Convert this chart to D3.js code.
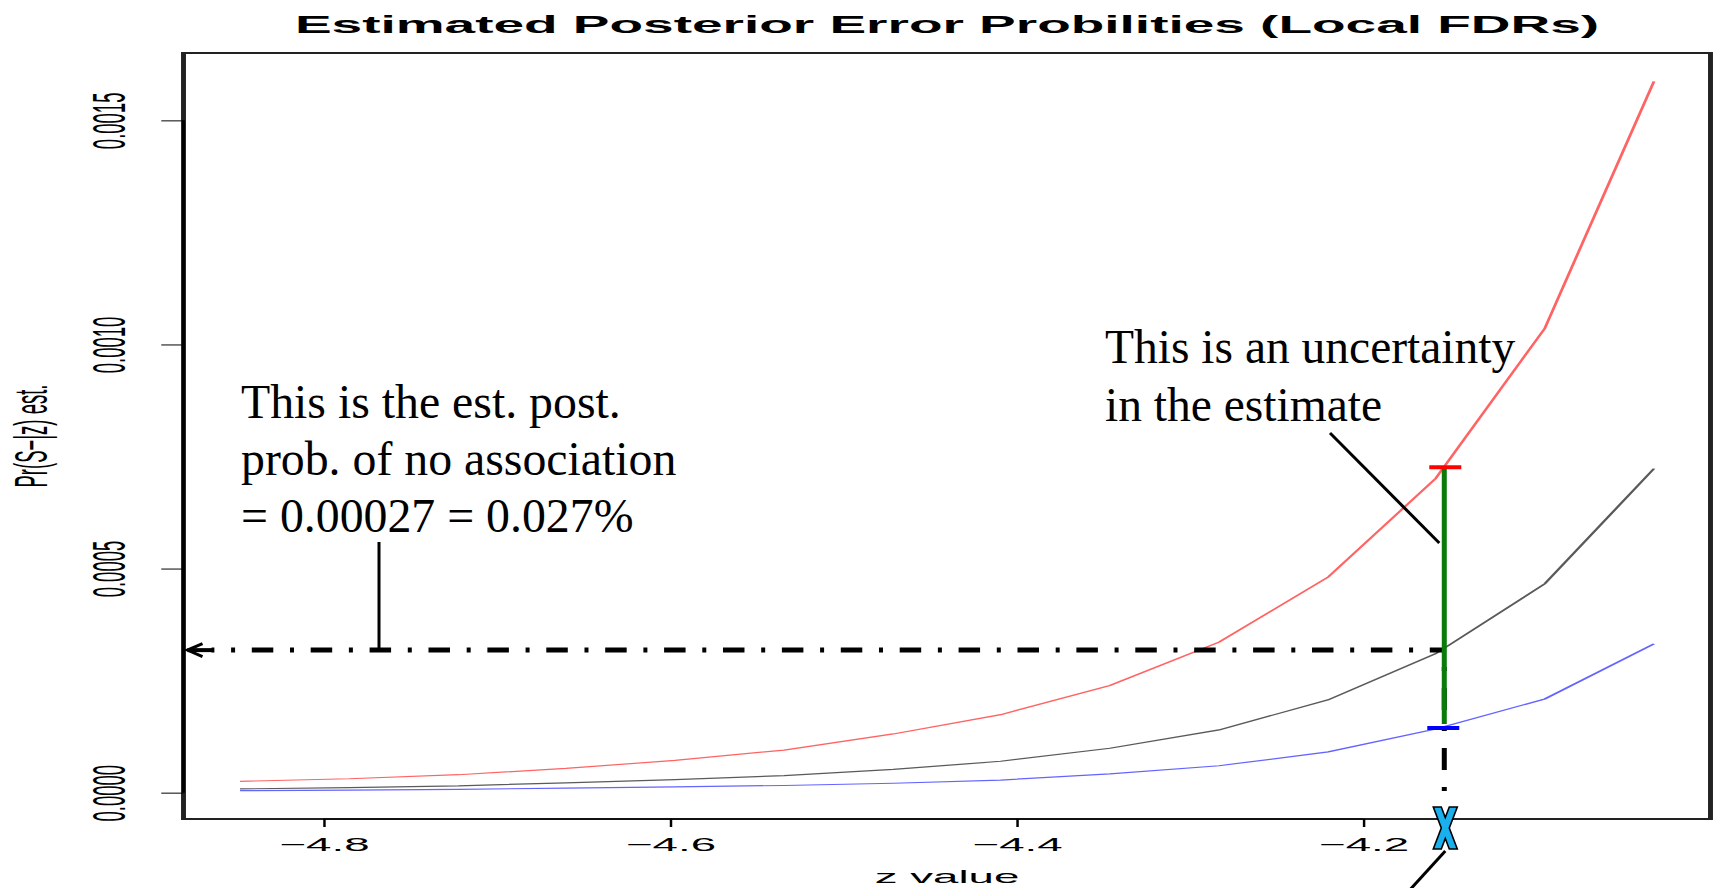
<!DOCTYPE html>
<html>
<head>
<meta charset="utf-8">
<script src="https://cdn.jsdelivr.net/npm/d3@7"></script>
<style>
  body { margin: 0; background: #fff; }
  svg { display: block; }
</style>
</head>
<body>
<svg id="chart" width="1714" height="888"></svg>
<script>
// z grid and the three posterior-error-probability curves
const zValues  = [-4.848, -4.785, -4.722, -4.660, -4.597, -4.534, -4.471, -4.409, -4.346, -4.283, -4.220, -4.158, -4.095, -4.032];
const upperPEP = [0.0000253, 0.000031, 0.000040, 0.000054, 0.000072, 0.000095, 0.000131, 0.000174, 0.000239, 0.000336, 0.000481, 0.000701, 0.001036, 0.001587];
const estPEP   = [0.0000083, 0.000011, 0.000015, 0.000022, 0.000029, 0.000038, 0.000052, 0.000070, 0.000099, 0.000140, 0.000207, 0.000310, 0.000466, 0.000723];
const lowerPEP = [0.0000045, 0.0000058, 0.0000075, 0.0000100, 0.000013, 0.000016, 0.000021, 0.000028, 0.000042, 0.000060, 0.000091, 0.000142, 0.000209, 0.000332];

// axis ticks and labels
const xTicks = [-4.8, -4.6, -4.4, -4.2];
const yTicks = [0, 0.0005, 0.0010, 0.0015];
const titleText = "Estimated Posterior Error Probilities (Local FDRs)";
const xLabel = "z value";
const yLabel = "Pr(S\u2212|z) est.";

// highlighted observation: its z, the estimate and its uncertainty interval
const markZ = -4.153;
const estAtMark = 0.000318;
const ciUpper = 0.000726;
const ciLower = 0.000144;

const noteLeft  = ["This is the est. post.", "prob. of no association", "= 0.00027 = 0.027%"];
const noteRight = ["This is an uncertainty", "in the estimate"];

// ---------------------------------------------------------------------------
const KX = 2.47;                       // horizontal stretch of the base plot
const box = { left: 183.5, right: 1710.5, top: 53, bottom: 819 };
const sans = "'Liberation Sans', Arial, Helvetica, sans-serif";
const serif = "'Liberation Serif', 'Times New Roman', serif";
const fs = 18.5;

const svg = d3.select("#chart");

// R-style 4% padded ranges
const allVals = upperPEP.concat(estPEP, lowerPEP);
const zExt = d3.extent(zValues), vExt = d3.extent(allVals);
const zPad = 0.04 * (zExt[1] - zExt[0]), vPad = 0.04 * (vExt[1] - vExt[0]);
const x = d3.scaleLinear().domain([zExt[0] - zPad, zExt[1] + zPad]).range([box.left, box.right]);
const y = d3.scaleLinear().domain([vExt[0] - vPad, vExt[1] + vPad]).range([box.bottom, box.top]);
const xn = x.copy().range([box.left / KX, box.right / KX]);   // x in the stretched frame

const base = svg.append("g").attr("transform", `scale(${KX},1)`);

// curves
const line = d3.line().x((d, i) => xn(zValues[i])).y(d => y(d));
[[upperPEP, "#ff6464"], [estPEP, "#5a5a5a"], [lowerPEP, "#6464ff"]].forEach(([s, c]) => {
  base.append("path").attr("d", line(s))
    .attr("fill", "none").attr("stroke", c).attr("stroke-width", 1.2);
});

// plot box
base.append("rect")
  .attr("x", box.left / KX).attr("y", box.top)
  .attr("width", (box.right - box.left) / KX).attr("height", box.bottom - box.top)
  .attr("fill", "none").attr("stroke", "#222").attr("stroke-width", 2);

// x axis
const gx = base.append("g").attr("transform", `translate(0,${box.bottom})`)
  .call(d3.axisBottom(xn).tickValues(xTicks).tickSize(8).tickPadding(11).tickFormat(d3.format(".1f")));
gx.select(".domain").remove();
gx.append("line")
  .attr("x1", xn(xTicks[0])).attr("x2", xn(xTicks[xTicks.length - 1]))
  .attr("stroke", "#000").attr("stroke-width", 1);
gx.selectAll("text").attr("font-size", fs).attr("font-family", sans).attr("fill", "#000");
gx.selectAll("line").attr("stroke", "#000");

// y axis with labels parallel to the axis
const gy = base.append("g").attr("transform", `translate(${box.left / KX},0)`)
  .call(d3.axisLeft(y).tickValues(yTicks).tickSize(9).tickFormat(d3.format(".4f")));
gy.select(".domain").remove();
gy.append("line")
  .attr("y1", y(yTicks[0])).attr("y2", y(yTicks[yTicks.length - 1]))
  .attr("stroke", "#000").attr("stroke-width", 1.2);
gy.selectAll("line").attr("stroke", "#000");
gy.selectAll(".tick text")
  .attr("x", null).attr("dy", null)
  .attr("transform", "translate(-23.7,0) rotate(-90)")
  .attr("text-anchor", "middle")
  .attr("font-size", fs).attr("font-family", sans).attr("fill", "#000");

// titles
const titleFs = 23.5, titleKX = 2.34;
svg.append("text")
  .attr("transform", `translate(${(box.left + box.right) / 2},33) scale(${titleKX},1)`)
  .attr("text-anchor", "middle").attr("font-family", sans)
  .attr("font-weight", "bold").attr("font-size", titleFs)
  .text(titleText);
base.append("text")
  .attr("x", (box.left + box.right) / 2 / KX).attr("y", 883)
  .attr("text-anchor", "middle").attr("font-family", sans).attr("font-size", fs)
  .text(xLabel);
base.append("text")
  .attr("transform", `translate(19,${(box.top + box.bottom) / 2}) rotate(-90)`)
  .attr("text-anchor", "middle").attr("font-family", sans).attr("font-size", fs)
  .text(yLabel);

// ---------------------------------------------------------------------------
// call-outs
const note = svg.append("g");
const mx = x(markZ), my = y(estAtMark);
const dashPattern = "21.5,16.7,4,16.7";

// horizontal dash-dot from the estimate to the y axis
note.append("path")
  .attr("d", `M${mx - 2},${my} L${box.left + 28},${my}`)
  .attr("stroke", "#000").attr("stroke-width", 5).attr("fill", "none")
  .attr("stroke-dasharray", dashPattern).attr("stroke-dashoffset", 9);
note.append("path")
  .attr("d", `M${box.left + 4},${my} L${box.left + 30},${my}`)
  .attr("stroke", "#000").attr("stroke-width", 4);
note.append("path")
  .attr("d", `M${box.left + 19},${my - 6.5} L${box.left + 4},${my} L${box.left + 19},${my + 6.5}`)
  .attr("stroke", "#000").attr("stroke-width", 3).attr("fill", "none");

// vertical dash-dot from the estimate down to the z axis
note.append("path")
  .attr("d", `M${mx},${my} L${mx},${box.bottom - 12}`)
  .attr("stroke", "#000").attr("stroke-width", 5).attr("fill", "none")
  .attr("stroke-dasharray", "22,17,4,17").attr("stroke-dashoffset", 22);

// uncertainty interval
note.append("line")
  .attr("x1", mx).attr("x2", mx).attr("y1", y(ciUpper) + 1).attr("y2", y(ciLower) - 4)
  .attr("stroke", "#0a7a0a").attr("stroke-width", 5);
note.append("line")
  .attr("x1", mx - 15).attr("x2", mx + 17).attr("y1", y(ciUpper)).attr("y2", y(ciUpper))
  .attr("stroke", "#ff0000").attr("stroke-width", 4);
note.append("line")
  .attr("x1", mx - 17).attr("x2", mx + 15).attr("y1", y(ciLower)).attr("y2", y(ciLower))
  .attr("stroke", "#0000ff").attr("stroke-width", 4);

// leader lines
note.append("line")
  .attr("x1", 379).attr("x2", 379).attr("y1", 542).attr("y2", my)
  .attr("stroke", "#000").attr("stroke-width", 3);
note.append("line")
  .attr("x1", 1330).attr("y1", 433).attr("x2", mx - 5).attr("y2", 543)
  .attr("stroke", "#000").attr("stroke-width", 3);
note.append("line")
  .attr("x1", mx + 1).attr("y1", 851).attr("x2", mx - 40).attr("y2", 896)
  .attr("stroke", "#000").attr("stroke-width", 3);

// X marker on the z axis
const cx = mx + 1, cy = 828;
const xMark = [
  [-12, -21], [-4, -21], [0, -10.5], [4, -21], [12, -21], [4, 0],
  [12, 21], [4, 21], [0, 10.5], [-4, 21], [-12, 21], [-4, 0]
];
note.append("path")
  .attr("d", "M" + xMark.map(p => `${cx + p[0]},${cy + p[1]}`).join("L") + "Z")
  .attr("fill", "#1ab0ee").attr("stroke", "#000").attr("stroke-width", 1.6)
  .attr("stroke-linejoin", "miter");

// call-out text
const tl = note.append("text").attr("font-family", serif).attr("font-size", 47.8).attr("fill", "#000");
noteLeft.forEach((t, i) => tl.append("tspan").attr("x", 241).attr("y", 418 + i * 57).text(t));
const tr = note.append("text").attr("font-family", serif).attr("font-size", 47.5).attr("fill", "#000");
noteRight.forEach((t, i) => tr.append("tspan").attr("x", 1105).attr("y", 363 + i * 58).text(t));
</script>
</body>
</html>
